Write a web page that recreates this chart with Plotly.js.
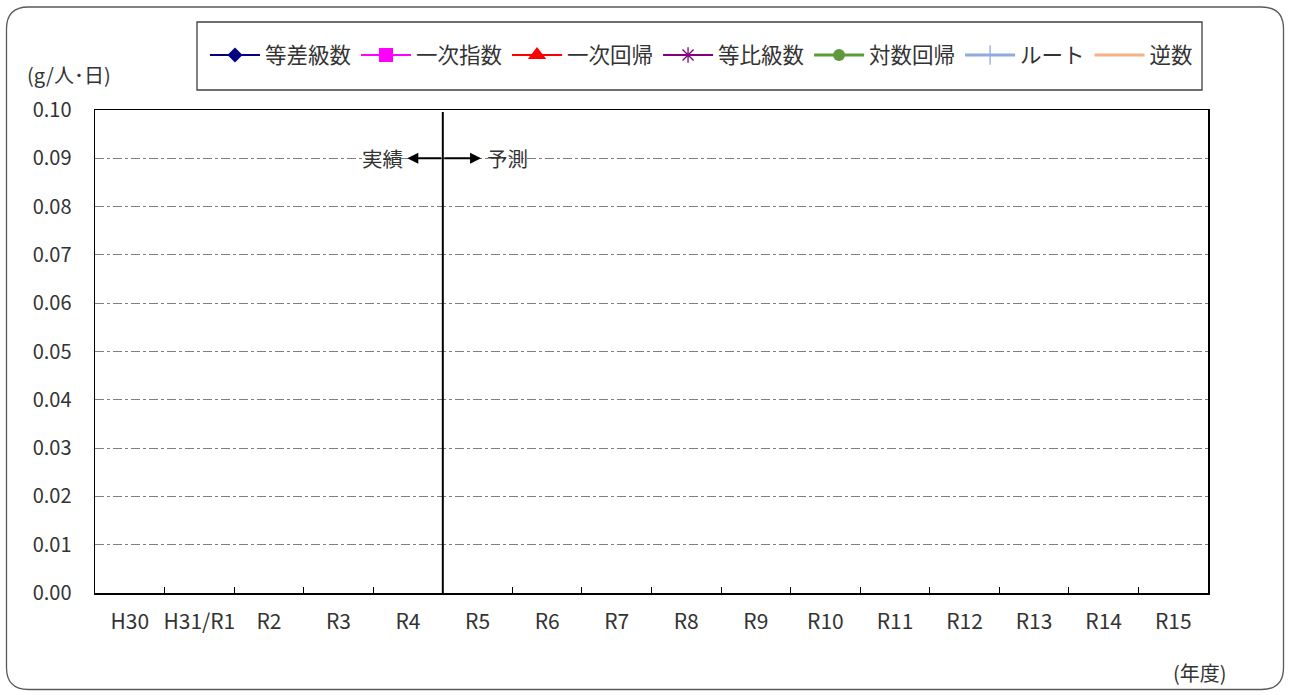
<!DOCTYPE html>
<html>
<head>
<meta charset="utf-8">
<script src="https://cdn.plot.ly/plotly-3.0.1.min.js"></script>
<style>
  html, body { margin: 0; padding: 0; background: #ffffff; }
  #chart { width: 1290px; height: 695px; }
</style>
</head>
<body>
<div id="chart"></div>
<script>
// Fiscal years on the horizontal axis
const categories = ['H30', 'H31/R1', 'R2', 'R3', 'R4', 'R5', 'R6', 'R7',
                    'R8', 'R9', 'R10', 'R11', 'R12', 'R13', 'R14', 'R15'];

// Projection series (g/人・日); no values are recorded for any year
const toSaKyuSu   = [null, null, null, null, null, null, null, null, null, null, null, null, null, null, null, null];
const ichijiShisu = [null, null, null, null, null, null, null, null, null, null, null, null, null, null, null, null];
const ichijiKaiki = [null, null, null, null, null, null, null, null, null, null, null, null, null, null, null, null];
const toHiKyuSu   = [null, null, null, null, null, null, null, null, null, null, null, null, null, null, null, null];
const taisuKaiki  = [null, null, null, null, null, null, null, null, null, null, null, null, null, null, null, null];
const route       = [null, null, null, null, null, null, null, null, null, null, null, null, null, null, null, null];
const gyakusu     = [null, null, null, null, null, null, null, null, null, null, null, null, null, null, null, null];

const seriesNames = ['等差級数', '一次指数', '一次回帰', '等比級数', '対数回帰', 'ルート', '逆数'];

// Boundary between actual values and forecast (between R4 and R5)
const splitPosition = 4.5;
const yMax = 0.1;
const arrowLevel = 0.09;

// Plot area in pixels
const W = 1290, H = 695;
const L = 95, R = 1208, T = 110, B = 593;
const px2x = p => (p - L) / (R - L);
const px2y = p => (B - p) / (B - T);

const FONT = '"Noto Sans CJK JP", "Noto Sans", sans-serif';
const TXT = '#333333';

function series(name, y, color, width, marker) {
  const t = {
    type: 'scatter', mode: marker ? 'lines+markers' : 'lines',
    name: name, x: categories, y: y,
    line: { color: color, width: width },
    connectgaps: false
  };
  if (marker) t.marker = marker;
  return t;
}

const data = [
  series(seriesNames[0], toSaKyuSu, '#000080', 2, { symbol: 'diamond', size: 11.5, color: '#000080' }),
  series(seriesNames[1], ichijiShisu, '#FF00FF', 2, { symbol: 'square', size: 14, color: '#FF00FF' }),
  series(seriesNames[2], ichijiKaiki, '#FF0000', 2, { symbol: 'triangle-up', size: 16, color: '#FF0000' }),
  series(seriesNames[3], toHiKyuSu, '#800080', 2, { symbol: 'asterisk-open', size: 13, color: '#800080', line: { color: '#800080', width: 1.3 } }),
  series(seriesNames[4], taisuKaiki, '#5E9A3C', 3, { symbol: 'circle', size: 12, color: '#5E9A3C' }),
  series(seriesNames[5], route, '#8FAADC', 3, { symbol: 'line-ns-open', size: 14, color: '#8FAADC', line: { color: '#8FAADC', width: 1.3 } }),
  series(seriesNames[6], gyakusu, '#F4B183', 3, null)
];

// Rounded outer frame path in paper coordinates
function roundedRect(x0, y0, x1, y1, r) {
  const X = px2x, Y = px2y;
  return 'M' + X(x0 + r) + ',' + Y(y0) +
    ' L' + X(x1 - r) + ',' + Y(y0) +
    ' Q' + X(x1) + ',' + Y(y0) + ' ' + X(x1) + ',' + Y(y0 + r) +
    ' L' + X(x1) + ',' + Y(y1 - r) +
    ' Q' + X(x1) + ',' + Y(y1) + ' ' + X(x1 - r) + ',' + Y(y1) +
    ' L' + X(x0 + r) + ',' + Y(y1) +
    ' Q' + X(x0) + ',' + Y(y1) + ' ' + X(x0) + ',' + Y(y1 - r) +
    ' L' + X(x0) + ',' + Y(y0 + r) +
    ' Q' + X(x0) + ',' + Y(y0) + ' ' + X(x0 + r) + ',' + Y(y0) + ' Z';
}

const layout = {
  width: W, height: H,
  margin: { l: L, r: W - R, t: T, b: H - B, pad: 0 },
  paper_bgcolor: '#ffffff', plot_bgcolor: '#ffffff',
  font: { family: FONT, size: 20, color: TXT },
  showlegend: true,
  legend: {
    orientation: 'h',
    x: px2x(205), xanchor: 'left',
    y: px2y(55), yanchor: 'middle',
    bgcolor: 'rgba(0,0,0,0)', borderwidth: 0,
    itemwidth: 50,
    font: { family: FONT, size: 21.5, color: TXT },
    traceorder: 'normal'
  },
  xaxis: {
    type: 'category',
    categoryorder: 'array', categoryarray: categories,
    range: [-0.5, categories.length - 0.5],
    tickson: 'boundaries',
    ticks: 'inside', ticklen: 6, tickcolor: '#000000', tickwidth: 1,
    showline: true, linecolor: '#000000', linewidth: 1.5, mirror: true,
    showgrid: false, zeroline: false,
    tickangle: 0,
    tickfont: { family: FONT, size: 21, color: TXT },
    ticklabelstandoff: 9,
    fixedrange: true
  },
  yaxis: {
    range: [0, yMax],
    dtick: 0.01, tick0: 0, tickformat: '.2f',
    ticks: '',
    showline: true, linecolor: '#000000', linewidth: 1.5, mirror: true,
    showgrid: true, gridcolor: '#7f7f7f', gridwidth: 1, griddash: 'dashdot',
    zeroline: false,
    tickfont: { family: FONT, size: 20, color: TXT },
    ticklabelstandoff: 18,
    fixedrange: true
  },
  shapes: [
    // actual / forecast divider
    { type: 'line', xref: 'x', yref: 'y', x0: splitPosition, x1: splitPosition, y0: 0, y1: yMax * 0.996,
      line: { color: '#000000', width: 2 } },
    // legend frame
    { type: 'rect', xref: 'paper', yref: 'paper',
      x0: px2x(197), x1: px2x(1202), y0: px2y(90), y1: px2y(22),
      line: { color: '#404040', width: 1.3 }, fillcolor: 'rgba(0,0,0,0)' },
    // outer rounded frame
    { type: 'path', xref: 'paper', yref: 'paper',
      path: roundedRect(6.5, 7, 1283.5, 689.5, 22),
      line: { color: '#595959', width: 1.3 } }
  ],
  annotations: [
    // arrows pointing away from the divider
    { xref: 'x', yref: 'y', axref: 'x', ayref: 'y',
      x: splitPosition - 0.51, y: arrowLevel, ax: splitPosition, ay: arrowLevel,
      text: '', showarrow: true, arrowhead: 2, arrowsize: 1.1, arrowwidth: 2, arrowcolor: '#000000' },
    { xref: 'x', yref: 'y', axref: 'x', ayref: 'y',
      x: splitPosition + 0.55, y: arrowLevel, ax: splitPosition, ay: arrowLevel,
      text: '', showarrow: true, arrowhead: 2, arrowsize: 1.1, arrowwidth: 2, arrowcolor: '#000000' },
    { xref: 'x', yref: 'y', x: splitPosition - 0.51, y: arrowLevel, xanchor: 'right', yanchor: 'middle',
      xshift: -2, text: '実績', showarrow: false, font: { family: FONT, size: 20.5, color: TXT } },
    { xref: 'x', yref: 'y', x: splitPosition + 0.55, y: arrowLevel, xanchor: 'left', yanchor: 'middle',
      xshift: 4, text: '予測', showarrow: false, font: { family: FONT, size: 20.5, color: TXT } },
    // units
    { xref: 'paper', yref: 'paper', x: px2x(25), y: px2y(75), xanchor: 'left', yanchor: 'middle',
      text: '(g/人･日)', showarrow: false, font: { family: FONT, size: 20, color: TXT } },
    { xref: 'paper', yref: 'paper', x: px2x(1229), y: px2y(672), xanchor: 'right', yanchor: 'middle',
      text: '(年度)', showarrow: false, font: { family: FONT, size: 20, color: TXT } }
  ]
};

Plotly.newPlot('chart', data, layout, { displayModeBar: false, staticPlot: true });
</script>
</body>
</html>
